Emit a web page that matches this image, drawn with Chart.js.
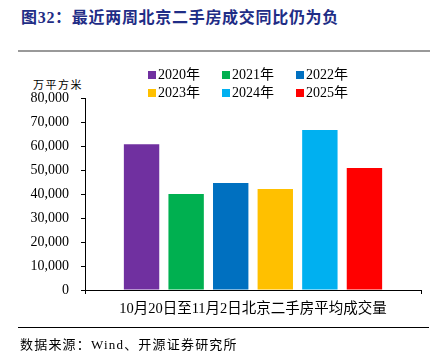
<!DOCTYPE html>
<html>
<head>
<meta charset="utf-8">
<script src="https://cdn.jsdelivr.net/npm/chart.js@4"></script>
<style>
  html, body { margin: 0; padding: 0; background: #fff; }
  #wrap { position: relative; width: 443px; height: 360px; overflow: hidden; font-family: "Liberation Serif", "Noto Sans CJK SC", serif; }
  #c { position: absolute; left: 0; top: 0; }
  .title { position: absolute; left: 21px; top: 4px; font-size: 16px; font-weight: bold; color: #1f2d86; letter-spacing: 0.7px; white-space: nowrap; }
  .rule1 { position: absolute; left: 18px; top: 50px; width: 412px; height: 2px; background: #999; }
  .rule2 { position: absolute; left: 18px; top: 327px; width: 411px; height: 1px; background: #000; }
  .unit { position: absolute; left: 33px; top: 76px; font-size: 11px; letter-spacing: 1.5px; white-space: nowrap; }
  .src { position: absolute; left: 20px; top: 334px; font-size: 13px; letter-spacing: 1.2px; white-space: nowrap; }
  .lg { position: absolute; font-size: 14px; line-height: 16px; white-space: nowrap; }
  .lg i { position: absolute; left: 0; top: 4px; width: 8px; height: 8px; }
  .lg span { position: absolute; left: 10px; top: 0; }
</style>
</head>
<body>
<div id="wrap">
  <div class="title">图32：最近两周北京二手房成交同比仍为负</div>
  <div class="rule1"></div>
  <div class="unit">万平方米</div>
  <canvas id="c" width="443" height="360"></canvas>
  <div id="legend"></div>
  <div class="rule2"></div>
  <div class="src">数据来源：Wind、开源证券研究所</div>
</div>
<script>
(function () {
  "use strict";
  var categories = ["10月20日至11月2日北京二手房平均成交量"];
  var years = ["2020年", "2021年", "2022年", "2023年", "2024年", "2025年"];
  var values = [60700, 40000, 44600, 42100, 66700, 50800];
  var colors = ["#7030a0", "#00b050", "#0070c0", "#ffc000", "#00b0f0", "#ff0000"];

  // legend: 3 columns x 2 rows
  var lg = document.getElementById("legend");
  years.forEach(function (y, i) {
    var d = document.createElement("div");
    d.className = "lg";
    d.style.left = (148 + (i % 3) * 74) + "px";
    d.style.top = (67 + Math.floor(i / 3) * 18) + "px";
    d.innerHTML = '<i style="background:' + colors[i] + '"></i><span>' + y + "</span>";
    lg.appendChild(d);
  });

  var font = { family: "'Liberation Serif', 'Noto Sans CJK SC', serif", size: 14 };

  new Chart(document.getElementById("c"), {
    type: "bar",
    data: {
      labels: categories,
      datasets: years.map(function (y, i) {
        return { label: y, data: [values[i]], backgroundColor: colors[i], categoryPercentage: 0.796, barPercentage: 0.794 };
      })
    },
    options: {
      responsive: false,
      animation: false,
      layout: { padding: { left: 0, right: 22, top: 98, bottom: 40 } },
      plugins: { legend: { display: false }, tooltip: { enabled: false } },
      scales: {
        x: {
          grid: { drawOnChartArea: false, offset: true, tickLength: 4, color: "#000" },
          border: { color: "#000" },
          ticks: { color: "#000", font: { family: font.family, size: 14.5 }, padding: 6 },
          afterFit: function (s) { s.height = 30; }
        },
        y: {
          min: 0, max: 80000,
          grid: { drawOnChartArea: false, tickLength: 4, color: "#000" },
          border: { color: "#000" },
          ticks: { stepSize: 10000, color: "#000", font: font, padding: 12 },
          afterFit: function (s) { s.width = 85; }
        }
      }
    }
  });
})();
</script>
</body>
</html>
